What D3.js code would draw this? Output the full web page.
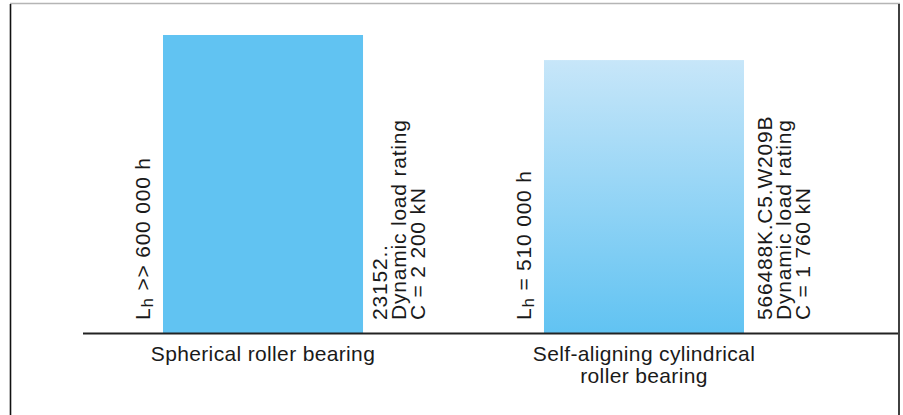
<!DOCTYPE html>
<html>
<head>
<meta charset="utf-8">
<script src="https://cdn.jsdelivr.net/npm/d3@7"></script>
<style>
  html, body { margin: 0; padding: 0; background: #fff; }
  svg { display: block; }
  text { font-family: "Liberation Sans", Arial, Helvetica, sans-serif; fill: #1a1a1a; }
</style>
</head>
<body>
<svg id="chart" width="903" height="415"></svg>
<script>
// Bearing types compared
const categories = ["Spherical roller bearing", "Self-aligning cylindrical roller bearing"];
const categoryLines = [["Spherical roller bearing"], ["Self-aligning cylindrical", "roller bearing"]];
// Rating life Lh in hours, and how it relates to the stated figure
const lifeHours = [600000, 510000];
const lifeRelation = [">>", "="];
const lifeText = ["600 000 h", "510 000 h"];
// Bearing designations and dynamic load ratings C in kN
const designations = ["23152..", "566488K.C5.W209B"];
const loadRatings = ["2 200", "1 760"];

// The life axis is truncated: its foot lies below zero so the bars stay tall.
const lifeAxisFoot = -470000;

const svg = d3.select("#chart");
const W = 903, H = 415;
const baseY = 333, topY = 35;

const x = d3.scaleBand()
  .domain(categories)
  .range([163, 744])
  .paddingInner(0.475)
  .paddingOuter(0);

const y = d3.scaleLinear()
  .domain([lifeAxisFoot, d3.max(lifeHours)])
  .range([baseY, topY]);

// Outer frame
svg.append("line").attr("x1", 10).attr("x2", 900).attr("y1", 3.5).attr("y2", 3.5)
  .attr("stroke", "#b5b5b5").attr("stroke-width", 1.5);
svg.append("line").attr("x1", 10.5).attr("x2", 10.5).attr("y1", 4).attr("y2", H)
  .attr("stroke", "#111").attr("stroke-width", 1.6);
svg.append("line").attr("x1", 899).attr("x2", 899).attr("y1", 4).attr("y2", H)
  .attr("stroke", "#111").attr("stroke-width", 1.6);

// Fading fill for the second bar
const defs = svg.append("defs");
const grad = defs.append("linearGradient")
  .attr("id", "fade").attr("x1", 0).attr("y1", 0).attr("x2", 0).attr("y2", 1);
grad.append("stop").attr("offset", "0%").attr("stop-color", "#c7e6f9");
grad.append("stop").attr("offset", "100%").attr("stop-color", "#61c3f2");

const barFill = ["#61c3f2", "url(#fade)"];
// Gap between each bar's right edge and its rating text
const specGap = [24, 28];

const data = categories.map((c, i) => ({
  cat: c, lines: categoryLines[i], life: lifeHours[i], rel: lifeRelation[i],
  lifeText: lifeText[i], des: designations[i], c: loadRatings[i], fill: barFill[i],
  gap: specGap[i]
}));

// Bars
svg.append("g").selectAll("rect").data(data).join("rect")
  .attr("x", d => x(d.cat))
  .attr("y", d => y(d.life))
  .attr("width", x.bandwidth())
  .attr("height", d => y(lifeAxisFoot) - y(d.life))
  .attr("fill", d => d.fill);

// Baseline
svg.append("line")
  .attr("x1", 83).attr("x2", 898)
  .attr("y1", baseY + 0.5).attr("y2", baseY + 0.5)
  .attr("stroke", "#222").attr("stroke-width", 2);

const fs = 21;

// Rating life labels, rotated, to the left of each bar
data.forEach(d => {
  const t = svg.append("text")
    .attr("transform", `translate(${x(d.cat) - 13},${baseY - 13}) rotate(-90)`)
    .attr("font-size", fs)
    .attr("letter-spacing", 0.8)
    .attr("text-anchor", "start");
  t.append("tspan").text("L");
  t.append("tspan").attr("font-size", 17).attr("dy", 3).text("h");
  t.append("tspan").attr("dy", -3).text(` ${d.rel} ${d.lifeText}`);
});

// Designation and load rating, rotated, to the right of each bar
data.forEach(d => {
  const lines = [d.des, "Dynamic load rating", `C = ${d.c} kN`];
  const t = svg.append("text")
    .attr("transform", `translate(${x(d.cat) + x.bandwidth() + d.gap},${baseY - 13}) rotate(-90)`)
    .attr("font-size", fs)
    .attr("letter-spacing", 0.8)
    .attr("text-anchor", "start");
  lines.forEach((l, k) => {
    t.append("tspan").attr("x", 0).attr("y", k * 19).text(l);
  });
});

// Category labels below the baseline
data.forEach(d => {
  const t = svg.append("text")
    .attr("y", 361)
    .attr("font-size", fs)
    .attr("letter-spacing", 0.35)
    .attr("text-anchor", "middle");
  d.lines.forEach((l, k) => {
    t.append("tspan").attr("x", x(d.cat) + x.bandwidth() / 2).attr("y", 361 + k * 22).text(l);
  });
});
</script>
</body>
</html>
